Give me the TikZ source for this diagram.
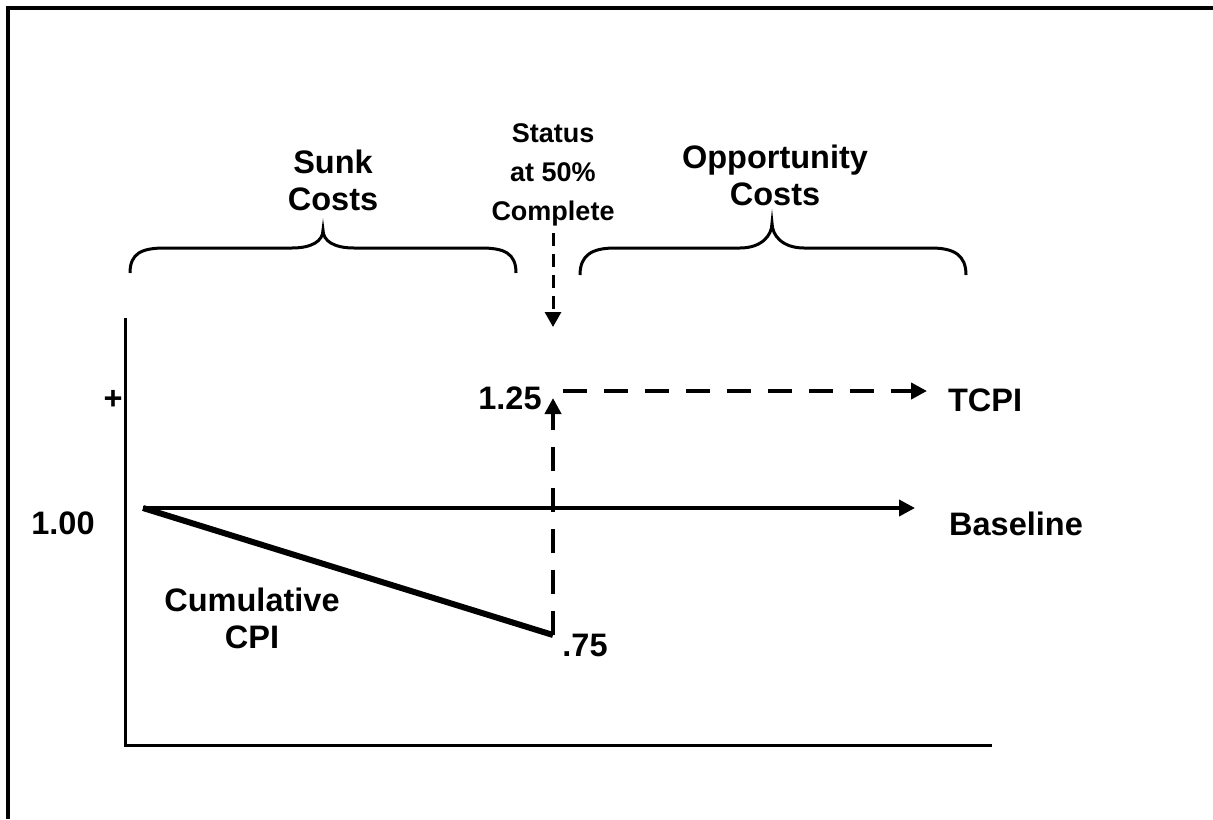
\documentclass[tikz,border=0pt]{standalone}
\usepackage{fontspec}
\setmainfont{Liberation Sans}
\usetikzlibrary{arrows.meta}
\tikzset{
  lbl/.style={inner sep=0pt, align=center, font=\bfseries\fontsize{16.25}{18.5}\selectfont},
  small/.style={inner sep=0pt, align=center, font=\bfseries\fontsize{13.5}{19.5}\selectfont},
  frame/.style={line width=2pt},
  axis/.style={line width=1.5pt},
  baseln/.style={line width=1.9pt},
  brace/.style={line width=1.5pt},
  head/.style={-{Triangle[length=8pt,width=8pt]}},
  thickdash/.style={line width=2pt, dash pattern=on 12pt off 8.5pt},
  thindash/.style={line width=1.5pt, dash pattern=on 6.5pt off 4pt},
}
\begin{document}
\begin{tikzpicture}[x=0.5pt,y=-0.5pt]
\useasboundingbox (0,0) rectangle (1213,819);
% frame
\draw[frame] (8,819) -- (8,8) -- (1213,8);
% axes
\coordinate (ytop) at (125,318);
\coordinate (orig) at (125,745);
\coordinate (xend) at (992,745);
\draw[axis] (ytop) -- (orig) -- (xend);
% baseline
\coordinate (b0) at (143,508);
\coordinate (b1) at (915,508);
\draw[baseln, head] (b0) -- (b1);
% cumulative CPI line
\coordinate (c1) at (553,635);
\draw[line width=3pt] (b0) -- (c1);
% vertical dashed arrow up to 1.25
\coordinate (up) at (553,398);
\draw[thickdash, head] (c1) -- (up);
% TCPI dashed arrow
\coordinate (t0) at (563,391);
\coordinate (t1) at (927,391);
\draw[thickdash, head] (t0) -- (t1);
% braces
\draw[brace] (130,273) .. controls (130,253) and (142,248) .. (165,248) -- (292,248)
  .. controls (312,248) and (323,241) .. (323,230)
  .. controls (323,241) and (334,248) .. (354,248) -- (481,248)
  .. controls (504,248) and (516,253) .. (516,273);
\draw[brace] (580,275) .. controls (580,255) and (592,248) .. (615,248) -- (740,248)
  .. controls (761,248) and (772,236) .. (772,223)
  .. controls (772,236) and (783,248) .. (804,248) -- (931,248)
  .. controls (954,248) and (966,255) .. (966,275);
% labels
\node[lbl] (sunk) at (333,180) {Sunk\\Costs};
\node[small] (status) at (553,175) {Status\\at 50\%\\Complete};
\node[lbl] (opp) at (775,175) {Opportunity\\Costs};
\node[lbl] (plus) at (113,400) {+};
\node[lbl] (one) at (63,523) {1.00};
\node[lbl] (onequarter) at (510,398) {1.25};
\node[lbl] (threeq) at (585,645) {.75};
\node[lbl] (tcpi) at (985,400) {TCPI};
\node[lbl] (base) at (1016,524) {Baseline};
\node[lbl] (cum) at (252,618) {Cumulative\\CPI};
% status arrow
\coordinate (sa) at (553,327);
\draw[thindash, -{Triangle[length=7.5pt,width=8pt]}] (status.south |- 0,233) -- (sa);
\end{tikzpicture}
\end{document}
